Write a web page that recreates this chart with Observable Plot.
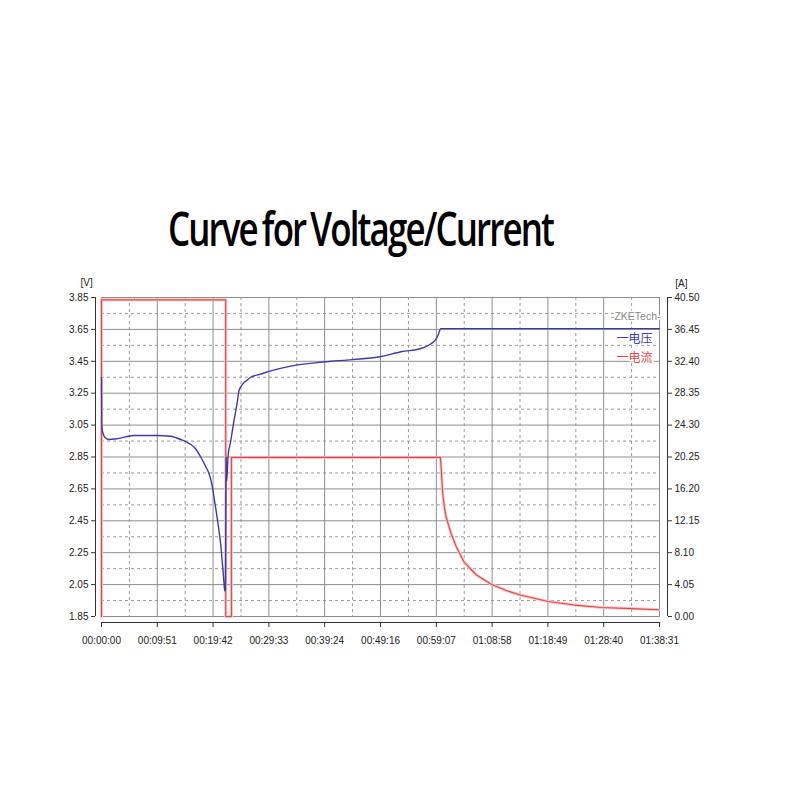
<!DOCTYPE html>
<html><head><meta charset="utf-8">
<script src="https://cdn.jsdelivr.net/npm/d3@7"></script>
<script src="https://cdn.jsdelivr.net/npm/@observablehq/plot@0.6"></script>
<style>
body{margin:0;background:#fff;}
#wrap{position:relative;width:800px;height:800px;overflow:hidden;}
#title{position:absolute;left:168px;top:205px;font-family:"Open Sans";font-weight:600;font-size:47px;line-height:47px;letter-spacing:-2.5px;word-spacing:-3px;white-space:nowrap;transform-origin:0 0;color:#000;}
#chart{position:absolute;left:0;top:0;}
</style></head>
<body><div id="wrap"><div id="title">Curve for Voltage/Current</div><div id="chart"></div></div>
<script>
// time tick labels (hh:mm:ss)
const timeLabels = ["00:00:00","00:09:51","00:19:42","00:29:33","00:39:24","00:49:16","00:59:07","01:08:58","01:18:49","01:28:40","01:38:31"];
// left axis (voltage, V)
const voltTicks = [1.85,2.05,2.25,2.45,2.65,2.85,3.05,3.25,3.45,3.65,3.85];
// right axis (current, A)
const currTicks = [0.00,4.05,8.10,12.15,16.20,20.25,24.30,28.35,32.40,36.45,40.50];

// voltage curve: time (s), volts
const vTime = [0,3,8,21,40,74,170,340,594,732,838,913,944,998,1051,1104,1136,1157,1178,1199,1220,1242,1263,1284,1295,1305,1312,1321,1327,1340,1369,1404,1440,1454,1475,1507,1539,1581,1687,1793,2006,2430,2961,3173,3385,3491,3545,3570,3593,5911];
const vVal  = [3.35,3.06,3.02,2.99,2.97,2.96,2.965,2.985,2.985,2.98,2.96,2.94,2.93,2.90,2.85,2.79,2.75,2.71,2.65,2.57,2.49,2.40,2.30,2.16,2.08,2.01,2.02,2.85,2.70,2.85,2.95,3.08,3.20,3.26,3.29,3.315,3.33,3.35,3.37,3.39,3.42,3.45,3.48,3.51,3.53,3.56,3.59,3.62,3.655,3.655];

// current curve: time (s), amps
const iTime = [0,0,1316,1316,1376,1376,3590,3600,3612,3630,3651,3704,3757,3842,3969,4128,4287,4446,4733,5009,5295,5614,5900];
const iVal  = [0,40.2,40.2,0,0,20.2,20.2,18.5,16.0,14.0,12.6,10.5,8.9,6.9,5.3,4.1,3.3,2.7,1.9,1.45,1.15,1.0,0.85];

const parseT = s => { const [h,m,sec] = s.split(":").map(Number); return h*3600+m*60+sec; };
const tTicks = timeLabels.map(parseT);
const tMinor = d3.pairs(tTicks).map(([a,b]) => (a+b)/2);
const vMinor = d3.pairs(voltTicks).map(([a,b]) => (a+b)/2);
const vLo = voltTicks[0], vHi = voltTicks[voltTicks.length-1];
const iHi = currTicks[currTicks.length-1];
const toV = a => vLo + a*(vHi-vLo)/iHi;

const voltage = vTime.map((t,i) => ({t, v: vVal[i]}));
const current = iTime.map((t,i) => ({t, v: toV(iVal[i])}));

const font = "Liberation Sans, Arial, sans-serif";
const blue = "#3c3ca8", red = "#e04848";

const chart = Plot.plot({
  width: 800, height: 800,
  marginLeft: 101, marginRight: 141, marginTop: 297, marginBottom: 184,
  style: {fontFamily: font, fontSize: "10px", color: "#222", background: "transparent"},
  x: {domain: [tTicks[0], tTicks[tTicks.length-1]]},
  y: {domain: [vLo, vHi]},
  marks: [
    Plot.ruleX(tMinor, {stroke: "#9a9a9a", strokeDasharray: "3,3"}),
    Plot.ruleY(vMinor, {stroke: "#9a9a9a", strokeDasharray: "3,3"}),
    Plot.ruleX(tTicks, {stroke: "#8e8e8e"}),
    Plot.ruleY(voltTicks, {stroke: "#8e8e8e"}),
    Plot.frame({stroke: "#8e8e8e"}),
    // axis lines
    Plot.ruleX([tTicks[0]], {dx: -6, stroke: "#333"}),
    Plot.ruleX([tTicks[tTicks.length-1]], {dx: 8, stroke: "#333"}),
    Plot.ruleY([vLo], {dy: 6, stroke: "#333"}),
    Plot.axisY({anchor: "left", ticks: voltTicks, tickFormat: d => d.toFixed(2), tickSize: 4, tickPadding: 3, dx: -6, label: null, stroke: "#333", fill: "#222"}),
    Plot.axisY({anchor: "right", ticks: voltTicks, tickFormat: (d,i) => currTicks[i].toFixed(2), tickSize: 4, tickPadding: 3, dx: 8, label: null, stroke: "#333", fill: "#222"}),
    Plot.axisX({ticks: tTicks, tickFormat: (d,i) => timeLabels[i], tickSize: 5, tickPadding: 9, dy: 6, label: null, stroke: "#333", fill: "#222"}),
    Plot.text(["[V]"], {frameAnchor: "top-left", dx: -21, dy: -19, fill: "#222", fontSize: 10}),
    Plot.text(["[A]"], {frameAnchor: "top-right", dx: 28, dy: -18, fill: "#222", fontSize: 10}),
    // current
    Plot.line(current, {x: "t", y: "v", stroke: "#f7c6c6", strokeWidth: 3}),
    Plot.line(current, {x: "t", y: "v", stroke: red, strokeWidth: 1.1}),
    // voltage
    Plot.line(voltage, {x: "t", y: "v", stroke: blue, strokeWidth: 1.4, curve: "monotone-x"}),
    // legend
    Plot.text(["-ZKETech-"], {frameAnchor: "top-right", textAnchor: "end", dx: 1, dy: 15, fill: "#8a8a8a", fontSize: 10.5, stroke: "white", strokeWidth: 3, paintOrder: "stroke"}),
    Plot.text(["一电压"], {frameAnchor: "top-right", textAnchor: "end", dx: -7, dy: 37, fill: blue, fontSize: 12, fontFamily: "Noto Sans CJK SC", stroke: "white", strokeWidth: 3, paintOrder: "stroke"}),
    Plot.text(["一电流"], {frameAnchor: "top-right", textAnchor: "end", dx: -7, dy: 56, fill: red, fontSize: 12, fontFamily: "Noto Sans CJK SC", stroke: "white", strokeWidth: 3, paintOrder: "stroke"})
  ]
});
document.getElementById("chart").appendChild(chart);

// fit title width to the reference width
const title = document.getElementById("title");
const w = title.getBoundingClientRect().width;
title.style.transform = `scaleX(${385 / w})`;
</script>
</body></html>
